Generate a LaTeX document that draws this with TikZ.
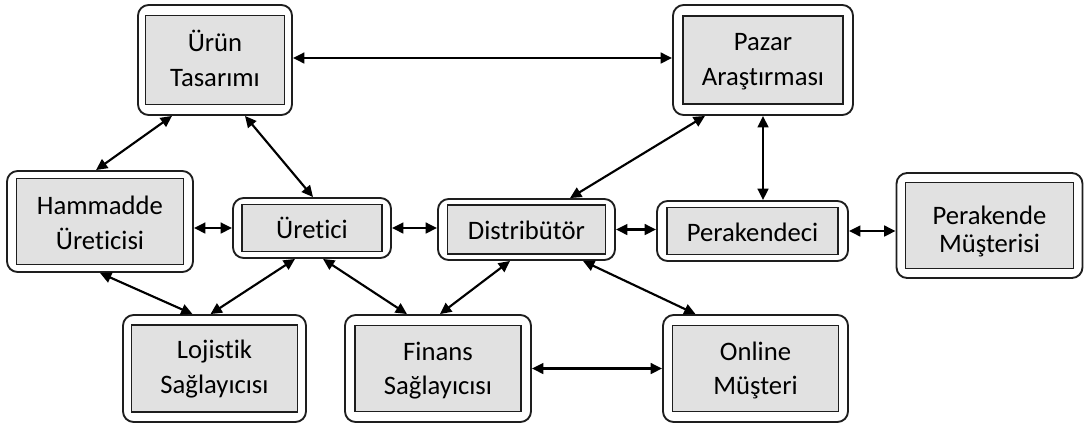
\documentclass[tikz,border=0pt]{standalone}
\usepackage{fontspec}
\setmainfont{Carlito}[Ligatures=NoCommon]
\usetikzlibrary{arrows.meta,calc}
\definecolor{boxgray}{RGB}{225,225,225}
\definecolor{edge}{RGB}{30,30,30}

% Line strut: fixes first-line height and last-line depth so labels sit alike
\newcommand\lnstrut[1][18pt]{\rule[-3pt]{0pt}{#1}}

% Double-framed box: rounded white frame with a grey labelled panel inside.
% #1 name, #2 cx, #3 cy, #4 outer w, #5 outer h, #6 inner w, #7 inner h, #8 label
\newcommand\dbox[8]{%
  \node[outerbox, minimum width=#4*0.75pt, minimum height=#5*0.75pt] (#1) at (#2,#3) {};
  \node[innerbox, minimum width=#6*0.75pt, minimum height=#7*0.75pt] (#1-in) at (#1) {#8};
}

\begin{document}
\begin{tikzpicture}[x=0.75pt,y=-0.75pt,
  outerbox/.style={draw=edge, line width=1.4pt, rounded corners=8pt, fill=white, inner sep=0pt},
  innerbox/.style={draw=edge, line width=1.1pt, fill=boxgray, inner sep=0pt, align=center,
                   font=\fontsize{20pt}{26pt}\selectfont},
  link/.style={line width=1.6pt, {Triangle[length=8.5pt,width=8pt]}-{Triangle[length=8.5pt,width=8pt]}}]

\useasboundingbox (0,0) rectangle (1084,433);

\dbox{uru}{215}{60}{154}{110}{139}{89}{\lnstrut Ürün\\Tasarımı\lnstrut}
\dbox{paz}{763}{60}{180}{110}{160}{88}{\lnstrut Pazar\\Araştırması\lnstrut}
\dbox{ham}{100}{221.5}{186}{101}{167}{86}{\lnstrut[22pt]Hammadde\\Üreticisi\lnstrut}
\dbox{ure}{312}{228}{158}{60}{140}{47}{\lnstrut[21pt]Üretici}
\dbox{dis}{526.5}{229.5}{177}{61}{158}{49}{\lnstrut[21pt]Distribütör}
\dbox{per}{752.5}{231}{191}{60}{171}{47}{\lnstrut[21pt]Perakendeci}
\dbox{pmu}{989.5}{225.5}{186}{105}{168}{86}{\lnstrut[26pt]Perakende\\[-5pt]Müşterisi\lnstrut}
\dbox{loj}{214.5}{368.5}{183}{107}{166}{87}{\lnstrut Lojistik\\Sağlayıcısı\lnstrut}
\dbox{fin}{438}{368.5}{186}{107}{166}{86}{\lnstrut[20pt]Finans\\Sağlayıcısı\lnstrut}
\dbox{onl}{755.5}{368.5}{185}{107}{166}{86}{\lnstrut[20pt]Online\\Müşteri\lnstrut}

% Top row
\draw[link] ($(uru.east)+(0,-2)$) -- ($(paz.west)+(0,-2)$);
\draw[link] ($(uru.south)+(-43,0)$) -- ($(ham.north)+(-4,0)$);
\draw[link] ($(uru.south)+(30,0)$) -- ($(ure.north)+(1,0)$);
\draw[link] ($(paz.south)+(-58,0)$) -- ($(dis.north)+(43.5,0)$);
\draw[link] (paz.south) -- (paz.south |- per.north);

% Middle row
\draw[link] (ure.west -| ham.east) -- (ure.west);
\draw[link] (ure.east) -- (ure.east -| dis.west);
\draw[link] (dis.east) -- (dis.east -| per.west);
\draw[link] (per.east) -- (per.east -| pmu.west);

% Down to the bottom row
\draw[link] (ham.south) -- ($(loj.north)+(-22,0)$);
\draw[link] ($(ure.south)+(-17,0)$) -- ($(loj.north)+(-4,0)$);
\draw[link] ($(ure.south)+(11,0)$) -- ($(fin.north)+(-31,0)$);
\draw[link] ($(dis.south)+(-16.5,0)$) -- ($(fin.north)+(2,0)$);
\draw[link] ($(dis.south)+(56.5,0)$) -- ($(onl.north)+(-60,0)$);
\draw[link] (fin.east) -- (fin.east -| onl.west);

\end{tikzpicture}
\end{document}
